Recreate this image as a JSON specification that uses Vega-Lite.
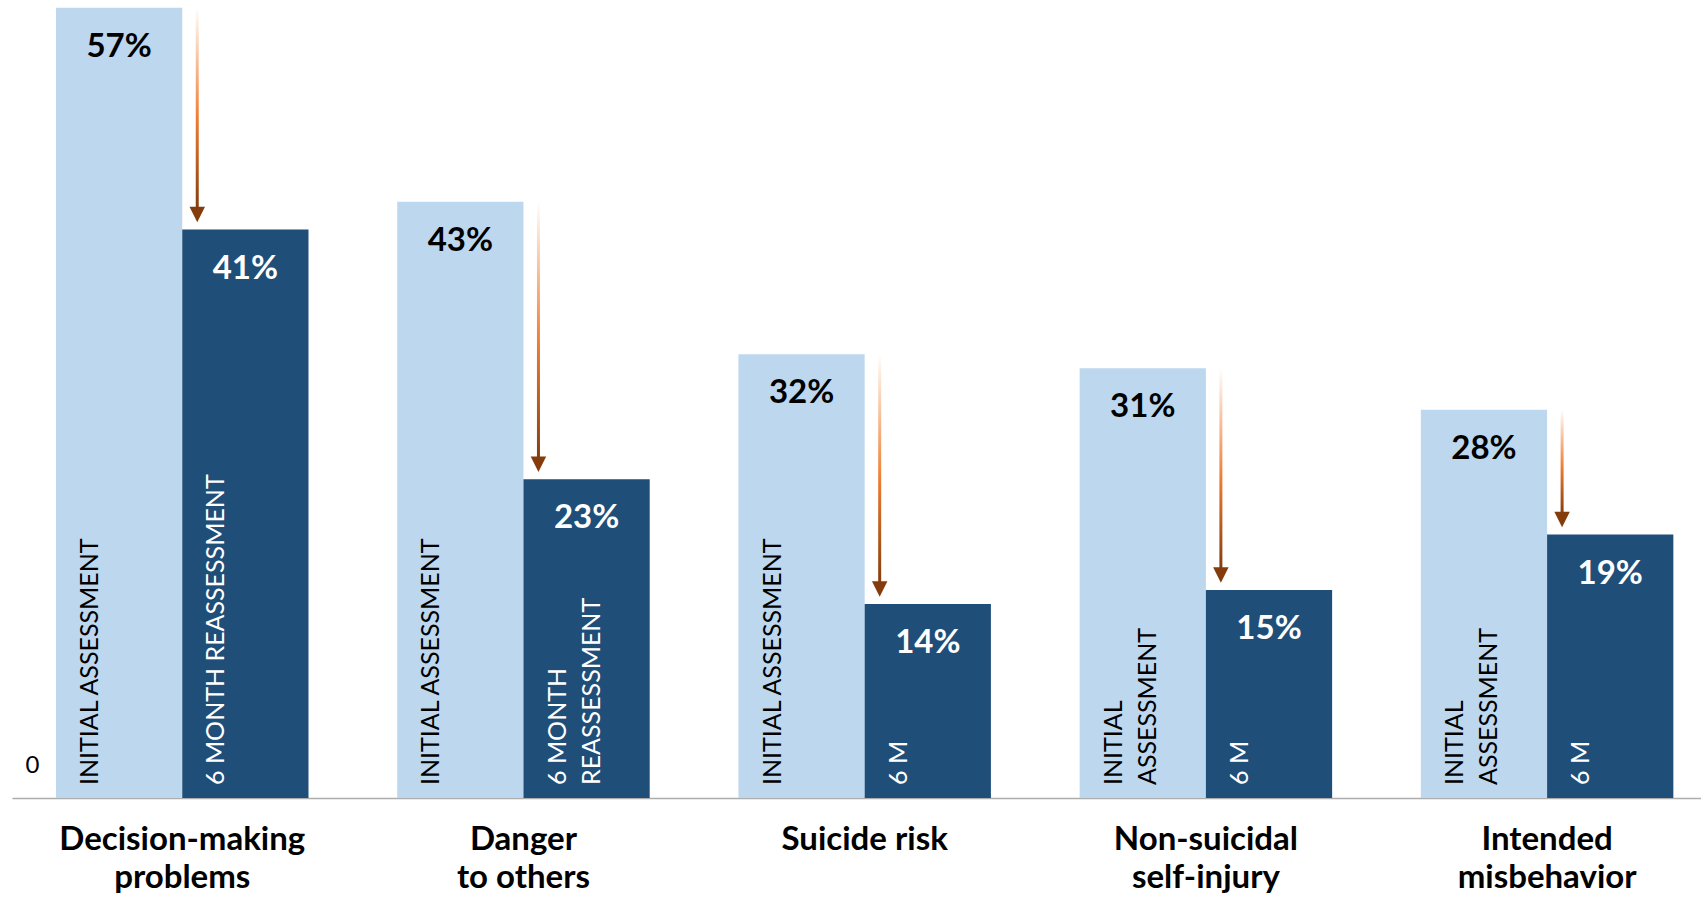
{
  "$schema": "https://vega.github.io/schema/vega-lite/v6.json",
  "width": 1689,
  "height": 798,
  "autosize": {"type": "none"},
  "padding": {"left": 12, "top": 0, "right": 0, "bottom": 99},
  "background": "#FFFFFF",
  "config": {"view": {"stroke": null}, "font": "Lato"},
  "data": {
    "values": [
      {"category": "Decision-making problems", "period": "initial", "pct": 0.57, "tag": "INITIAL ASSESSMENT"},
      {"category": "Decision-making problems", "period": "sixmonth", "pct": 0.41, "tag": "6 MONTH REASSESSMENT"},
      {"category": "Danger to others", "period": "initial", "pct": 0.43, "tag": "INITIAL ASSESSMENT"},
      {"category": "Danger to others", "period": "sixmonth", "pct": 0.23, "tag": ["6 MONTH", "REASSESSMENT"]},
      {"category": "Suicide risk", "period": "initial", "pct": 0.32, "tag": "INITIAL ASSESSMENT"},
      {"category": "Suicide risk", "period": "sixmonth", "pct": 0.14, "tag": "6 M"},
      {"category": "Non-suicidal self-injury", "period": "initial", "pct": 0.31, "tag": ["INITIAL", "ASSESSMENT"]},
      {"category": "Non-suicidal self-injury", "period": "sixmonth", "pct": 0.15, "tag": "6 M"},
      {"category": "Intended misbehavior", "period": "initial", "pct": 0.28, "tag": ["INITIAL", "ASSESSMENT"]},
      {"category": "Intended misbehavior", "period": "sixmonth", "pct": 0.19, "tag": "6 M"}
    ]
  },
  "encoding": {
    "x": {
      "field": "category",
      "type": "nominal",
      "scale": {
        "domain": ["Decision-making problems", "Danger to others", "Suicide risk", "Non-suicidal self-injury", "Intended misbehavior"],
        "paddingInner": 0.26,
        "paddingOuter": 0.105,
        "align": 0.614
      },
      "axis": {
        "title": null,
        "labelAngle": 0,
        "ticks": false,
        "tickSize": 0,
        "labelPadding": 51,
        "labelBaseline": "alphabetic",
        "labelFontSize": 33,
        "labelFontWeight": "bold",
        "labelColor": "#000000",
        "labelLineHeight": 38,
        "labelLimit": 0,
        "labelOverlap": false,
        "domainColor": "#ADADAD",
        "domainWidth": 1.5,
        "labelExpr": "datum.value == 'Decision-making problems' ? ['Decision-making', 'problems'] : datum.value == 'Danger to others' ? ['Danger', 'to others'] : datum.value == 'Non-suicidal self-injury' ? ['Non-suicidal', 'self-injury'] : datum.value == 'Intended misbehavior' ? ['Intended', 'misbehavior'] : datum.value"
      }
    }
  },
  "layer": [
    {
      "mark": {"type": "bar"},
      "encoding": {
        "xOffset": {"field": "period", "type": "nominal", "sort": ["initial", "sixmonth"], "scale": {"paddingInner": 0, "paddingOuter": 0}},
        "y": {
          "field": "pct",
          "type": "quantitative",
          "scale": {"domain": [0, 0.5756], "nice": false},
          "axis": {
            "title": null,
            "values": [0],
            "format": "d",
            "domain": false,
            "ticks": false,
            "tickSize": 0,
            "grid": false,
            "labelFlush": false,
            "labelPadding": -20,
            "labelAlign": "center",
            "labelBaseline": "alphabetic",
            "labelOffset": -26,
            "labelFontSize": 24,
            "labelColor": "#000000"
          }
        },
        "color": {"field": "period", "type": "nominal", "scale": {"domain": ["initial", "sixmonth"], "range": ["#BDD7EE", "#1F4E79"]}, "legend": null}
      }
    },
    {
      "mark": {"type": "text", "angle": 270, "align": "left", "baseline": "alphabetic", "dx": 13, "dy": -21, "fontSize": 25, "lineHeight": 34.5},
      "encoding": {
        "xOffset": {"field": "period", "type": "nominal", "sort": ["initial", "sixmonth"]},
        "y": {"datum": 0, "type": "quantitative"},
        "text": {"field": "tag", "type": "nominal"},
        "color": {"condition": {"test": "datum.period === 'initial'", "value": "#000000"}, "value": "#FFFFFF"}
      }
    },
    {
      "mark": {"type": "text", "align": "center", "baseline": "middle", "dy": 39, "fontSize": 33, "fontWeight": "bold"},
      "encoding": {
        "xOffset": {"field": "period", "type": "nominal", "sort": ["initial", "sixmonth"]},
        "y": {"field": "pct", "type": "quantitative"},
        "text": {"field": "pct", "type": "quantitative", "format": ".0%"},
        "color": {"condition": {"test": "datum.period === 'initial'", "value": "#000000"}, "value": "#FFFFFF"}
      }
    },
    {
      "transform": [{"pivot": "period", "value": "pct", "groupby": ["category"]}],
      "layer": [
        {
          "mark": {
            "type": "bar",
            "width": 3,
            "xOffset": 15,
            "y2Offset": -20,
            "fill": {
              "gradient": "linear",
              "x1": 0, "y1": 0, "x2": 0, "y2": 1,
              "stops": [
                {"offset": 0, "color": "#FFFFFF"},
                {"offset": 0.55, "color": "#ED7D31"},
                {"offset": 1, "color": "#843C0C"}
              ]
            }
          },
          "encoding": {
            "y": {"field": "initial", "type": "quantitative"},
            "y2": {"field": "sixmonth"}
          }
        },
        {
          "mark": {"type": "point", "shape": "M-1,-1L1,-1L0,1Z", "size": 240, "filled": true, "opacity": 1, "color": "#843C0C", "strokeWidth": 0, "xOffset": 15, "yOffset": -15},
          "encoding": {
            "y": {"field": "sixmonth", "type": "quantitative"}
          }
        }
      ]
    }
  ]
}
